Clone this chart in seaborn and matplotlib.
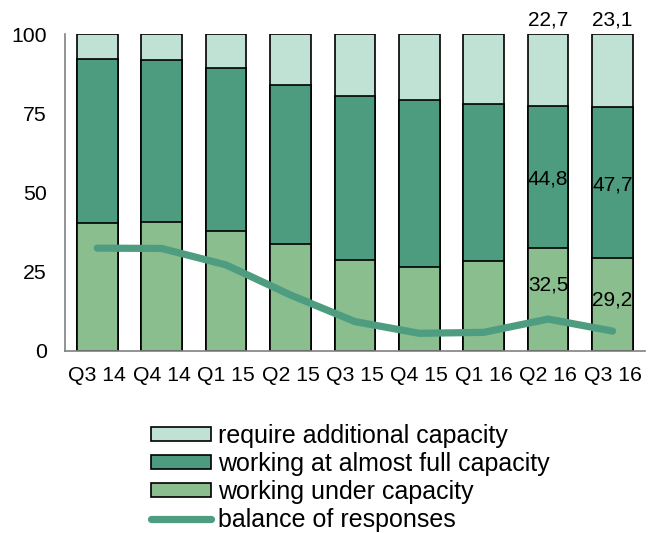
import numpy as np
import matplotlib
matplotlib.use("Agg")
import matplotlib.pyplot as plt
import seaborn as sns
from matplotlib.patches import Patch
from matplotlib.lines import Line2D

quarters = ["Q3 14", "Q4 14", "Q1 15", "Q2 15", "Q3 15", "Q4 15", "Q1 16", "Q2 16", "Q3 16"]
under_capacity = [40.4, 40.5, 37.8, 33.8, 28.6, 26.4, 28.2, 32.5, 29.2]
almost_full = [51.6, 51.2, 51.6, 50.0, 51.9, 52.9, 49.6, 44.8, 47.7]
require_additional = [8.0, 8.3, 10.6, 16.2, 19.5, 20.7, 22.2, 22.7, 23.1]
balance = [32.4, 32.3, 27.1, 17.6, 9.2, 5.5, 5.8, 10.0, 6.2]

c_light = "#c0e2d5"
c_mid = "#4e9c80"
c_low = "#8abe8f"
c_line = "#4f9d80"

sns.set_style("white")
plt.rcParams["font.family"] = ["Liberation Sans", "DejaVu Sans"]
plt.rcParams["text.color"] = "black"
plt.rcParams["xtick.color"] = "#808080"
plt.rcParams["ytick.color"] = "#808080"
plt.rcParams["xtick.labelcolor"] = "black"
plt.rcParams["ytick.labelcolor"] = "black"
fs_tick = 15.3
fs_val = 15
fs_leg = 18

fig = plt.figure(figsize=(6.5, 5.33), dpi=100)
ax = fig.add_axes([0.1, 0.342, 0.892, 0.594])

low = np.array(under_capacity)
mid_top = low + np.array(almost_full)
total = mid_top + np.array(require_additional)

bar_kw = dict(width=0.63, edgecolor="black", linewidth=1.2, ax=ax, zorder=2, saturation=1)
sns.barplot(x=quarters, y=total, color=c_light, **bar_kw)
sns.barplot(x=quarters, y=mid_top, color=c_mid, **bar_kw)
sns.barplot(x=quarters, y=low, color=c_low, **bar_kw)
sns.lineplot(x=np.arange(len(quarters)), y=balance, color=c_line, linewidth=5.2,
             ax=ax, zorder=3, solid_capstyle="round")

# value labels on the last two bars
for i in (7, 8):
    ax.text(i, 104.5, f"{require_additional[i]:.1f}".replace(".", ","),
            ha="center", va="center", fontsize=fs_val, clip_on=False)
    ax.text(i, (low[i] + mid_top[i]) / 2 - 0.8, f"{almost_full[i]:.1f}".replace(".", ","),
            ha="center", va="center", fontsize=fs_val, zorder=4)
ax.text(7, 20.8, "32,5", ha="center", va="center", fontsize=fs_val, zorder=4)
ax.text(8, 16.0, "29,2", ha="center", va="center", fontsize=fs_val, zorder=4)

ax.set_ylim(0, 100)
ax.set_xlim(-0.5, len(quarters) - 0.5)
ax.set_yticks([0, 25, 50, 75, 100])
ax.set_xticks(np.arange(len(quarters)), quarters, minor=True)
ax.set_xticks(np.arange(len(quarters) + 1) - 0.5, [""] * (len(quarters) + 1))
ax.tick_params(axis="x", which="minor", length=0, labelsize=fs_tick, pad=11)
ax.tick_params(axis="x", which="major", length=5, width=1.2, direction="out")
ax.tick_params(axis="y", length=5, width=1.2, direction="out", labelsize=fs_tick, pad=8)
ax.set_xlabel("")
ax.set_ylabel("")
for s in ("top", "right"):
    ax.spines[s].set_visible(False)
for s in ("left", "bottom"):
    ax.spines[s].set_color("#808080")
    ax.spines[s].set_linewidth(1.2)

handles = [
    Patch(facecolor=c_light, edgecolor="black", linewidth=1.2),
    Patch(facecolor=c_mid, edgecolor="black", linewidth=1.2),
    Patch(facecolor=c_low, edgecolor="black", linewidth=1.2),
    Line2D([0], [0], color=c_line, linewidth=5.2, solid_capstyle="round"),
]
labels = ["require additional capacity", "working at almost full capacity",
          "working under capacity", "balance of responses"]
fig.legend(handles, labels, loc="upper left", bbox_to_anchor=(0.233, 0.205),
           frameon=False, fontsize=fs_leg, handlelength=2.4, handleheight=0.45,
           handletextpad=0.25, labelspacing=0.16, borderpad=0, borderaxespad=0)

fig.savefig("out.png", dpi=100)
